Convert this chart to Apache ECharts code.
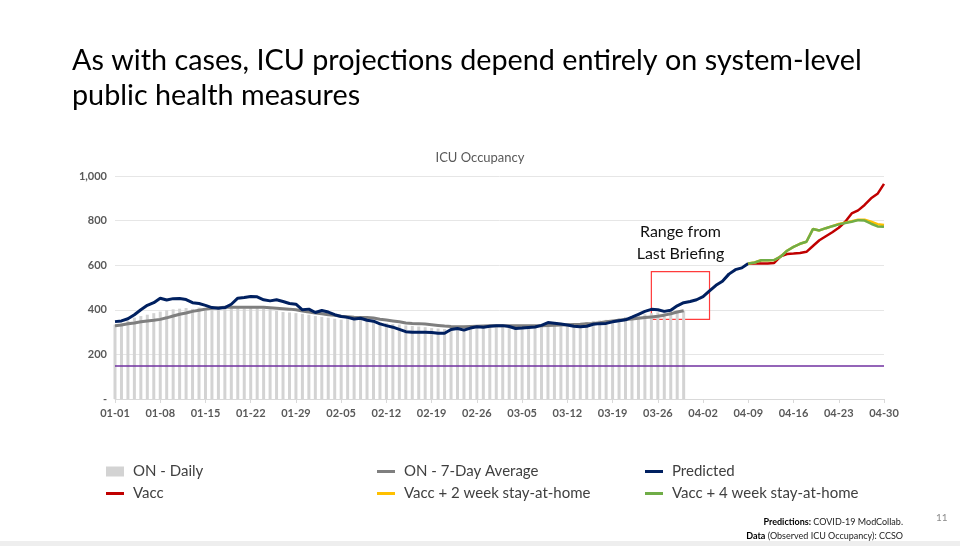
<!DOCTYPE html>
<html><head><meta charset="utf-8">
<script src="https://cdn.jsdelivr.net/npm/echarts@6/dist/echarts.min.js"></script>
<style>html,body{margin:0;padding:0;background:#fff}#c{width:960px;height:546px}</style>
</head><body><div id="c"></div>
<script>
// ---- Text ----
const titleLines = ['As with cases, ICU projections depend entirely on system-level', 'public health measures'];
const chartTitle = 'ICU Occupancy';
const seriesNames = ['ON - Daily', 'ON - 7-Day Average', 'Predicted', 'Vacc', 'Vacc + 2 week stay-at-home', 'Vacc + 4 week stay-at-home'];

// ---- Categories: daily dates 01-01 .. 04-30 ----
const monthLengths = [31, 28, 31, 30];
const categories = [];
monthLengths.forEach((len, m) => {
  for (let d = 1; d <= len; d++) categories.push(String(m + 1).padStart(2, '0') + '-' + String(d).padStart(2, '0'));
});

// ---- Y ticks ----
const yTicks = [0, 200, 400, 600, 800, 1000];
const capacityLine = 150;

// ---- Series values ----
// Observed daily, 01-01 .. 03-30
const onDaily = [
  333,340,350,365,372,378,385,392,398,402,
  405,408,404,410,406,408,410,412,410,408,
  406,410,409,405,402,395,390,388,385,382,
  378,372,368,365,360,356,370,372,368,352,
  348,346,340,336,334,330,328,325,322,318,
  316,314,318,320,322,324,326,330,330,328,
  325,322,326,328,330,332,334,330,328,326,
  330,335,338,345,350,352,355,350,362,368,
  372,375,380,385,388,390,392,394,396
];
// Observed 7-day average, 01-01 .. 03-30
const on7Day = [
  328,332,337,341,346,350,353,357,364,372,
  380,386,393,398,403,407,409,411,411,411,
  411,411,411,411,409,407,405,403,400,395,
  390,386,382,378,375,371,369,367,366,365,
  363,358,354,350,346,341,339,338,336,333,
  330,327,325,324,324,325,326,327,328,328,
  329,329,328,328,328,328,329,330,331,332,
  333,334,335,337,339,342,346,350,353,356,
  359,362,365,368,371,376,382,390,396
];
// Predicted, 01-01 .. 04-09
const predicted = [
  347,350,360,378,400,420,432,452,444,450,
  451,446,432,428,420,410,407,410,425,452,
  455,460,458,445,440,445,437,428,425,400,
  403,388,397,390,378,370,366,359,362,353,
  349,337,329,322,312,302,299,299,299,298,
  295,295,312,316,309,318,324,322,326,328,
  329,325,316,318,321,323,330,343,340,336,
  332,326,324,326,335,338,339,346,351,355,
  367,380,393,402,400,393,398,418,432,437,
  445,459,485,510,528,560,580,588,608
];
// Scenarios, 04-09 .. 04-30
const scenarioStart = '04-09';
const vacc =      [608,609,608,608,610,640,650,652,655,660,686,712,730,748,768,795,832,846,870,900,920,965];
const vacc2week = [608,612,622,622,623,638,665,682,696,705,762,756,766,775,785,791,797,804,804,795,784,780];
const vacc4week = [608,612,622,622,623,638,665,682,696,705,762,756,766,775,783,789,795,802,800,786,774,772];

// Annotated range
const rangeLabel = 'Range from\nLast Briefing';
const rangeFrom = ['03-25', 357];
const rangeTo = ['04-03', 571];

// ---- helpers ----
function padFrom(startCat, arr) {
  const i0 = categories.indexOf(startCat);
  return categories.map((c, i) => (i >= i0 && i - i0 < arr.length) ? arr[i - i0] : null);
}
function padStart(arr) { return categories.map((c, i) => i < arr.length ? arr[i] : null); }
function fitSize(text, family, target) {
  const ctx = document.createElement('canvas').getContext('2d');
  ctx.font = '100px ' + family;
  return 100 * target / ctx.measureText(text).width;
}

const FONT = 'Lato';
const titleSize = fitSize(titleLines[0], FONT, 790);
const colors = { daily:'#d3d3d3', avg:'#7f7f7f', pred:'#002060', vacc:'#c00000', v2:'#ffc000', v4:'#70ad47', cap:'#7030a0' };
const legendPos = [[106, 464], [377, 464], [645, 464], [106, 486], [377, 486], [645, 486]];

const chart = echarts.init(document.getElementById('c'), null, { renderer: 'canvas' });

const lineCommon = { type: 'line', symbol: 'none', showSymbol: false, connectNulls: false, smooth: false };

chart.setOption({
  animation: false,
  backgroundColor: '#fff',
  title: {
    text: chartTitle, left: 'center', top: 146,
    textStyle: { fontFamily: FONT, fontSize: 13, color: '#595959', fontWeight: 'normal' }
  },
  grid: { left: 115, right: 76, top: 176, bottom: 147, containLabel: false },
  legend: seriesNames.map((n, i) => ({
    data: [{ name: n, icon: 'rect' }],
    left: legendPos[i][0], top: legendPos[i][1], padding: 0,
    itemWidth: 18, itemHeight: i === 0 ? 10 : 3, selectedMode: false,
    textStyle: { fontFamily: FONT, fontSize: 15, color: '#404040', padding: [0, 0, 0, 4] }
  })),
  xAxis: {
    type: 'category', data: categories, boundaryGap: false,
    axisLine: { lineStyle: { color: '#d9d9d9' } },
    axisTick: { interval: 6, length: 4, lineStyle: { color: '#d9d9d9' } },
    axisLabel: { interval: 6, margin: 9, fontFamily: FONT, fontSize: 11, fontWeight: 'bold', color: '#595959' },
    splitLine: { show: false }
  },
  yAxis: {
    type: 'value', min: yTicks[0], max: yTicks[yTicks.length - 1], interval: yTicks[1] - yTicks[0],
    axisLine: { show: false }, axisTick: { show: false },
    axisLabel: { margin: 8, fontFamily: FONT, fontSize: 11, fontWeight: 'bold', color: '#595959',
      formatter: v => v === 0 ? '-' : v.toLocaleString('en-US') },
    splitLine: { lineStyle: { color: '#e6e6e6' } }
  },
  series: [
    { name: seriesNames[0], type: 'bar', data: padStart(onDaily), barWidth: 3, color: colors.daily,
      itemStyle: { color: colors.daily } },
    { ...lineCommon, name: seriesNames[1], data: padStart(on7Day), color: colors.avg,
      lineStyle: { color: colors.avg, width: 3 },
      markLine: { silent: true, symbol: 'none', label: { show: false },
        lineStyle: { color: colors.cap, width: 1.5, type: 'solid' }, data: [{ yAxis: capacityLine }] } },
    { ...lineCommon, name: seriesNames[2], data: padStart(predicted), color: colors.pred,
      lineStyle: { color: colors.pred, width: 3 },
      markArea: { silent: true,
        itemStyle: { color: 'rgba(0,0,0,0)', borderColor: '#ff3b3b', borderWidth: 1.2 },
        label: { show: true, position: 'top', distance: 6, formatter: rangeLabel,
          fontFamily: FONT, fontSize: 16, lineHeight: 22, color: '#111' },
        data: [[{ coord: rangeFrom }, { coord: rangeTo }]] } },
    { ...lineCommon, name: seriesNames[3], data: padFrom(scenarioStart, vacc), color: colors.vacc,
      lineStyle: { color: colors.vacc, width: 2.5 } },
    { ...lineCommon, name: seriesNames[4], data: padFrom(scenarioStart, vacc2week), color: colors.v2,
      lineStyle: { color: colors.v2, width: 2.5 } },
    { ...lineCommon, name: seriesNames[5], data: padFrom(scenarioStart, vacc4week), color: colors.v4,
      lineStyle: { color: colors.v4, width: 2.5 } }
  ],
  graphic: [
    { type: 'text', left: 72, top: 46, style: { text: titleLines[0], font: titleSize.toFixed(2) + 'px ' + FONT, fill: '#000' } },
    { type: 'text', left: 72, top: 81, style: { text: titleLines[1], font: titleSize.toFixed(2) + 'px ' + FONT, fill: '#000' } },
    { type: 'text', right: 57, top: 518, style: { text: '{b|Predictions:} COVID-19 ModCollab.', font: '9px ' + FONT, fill: '#222',
        rich: { b: { fontWeight: 'bold', fontSize: 9, fontFamily: FONT, fill: '#000', color: '#000' } } } },
    { type: 'text', right: 57, top: 532, style: { text: '{b|Data} (Observed ICU Occupancy): CCSO', font: '9px ' + FONT, fill: '#222',
        rich: { b: { fontWeight: 'bold', fontSize: 9, fontFamily: FONT, fill: '#000', color: '#000' } } } },
    { type: 'text', left: 936, top: 513, style: { text: '11', font: '10px ' + FONT, fill: '#8c8c8c' } },
    { type: 'rect', shape: { x: 0, y: 541, width: 960, height: 5 }, style: { fill: '#eeeeee' }, silent: true }
  ]
});
</script>
</body></html>
